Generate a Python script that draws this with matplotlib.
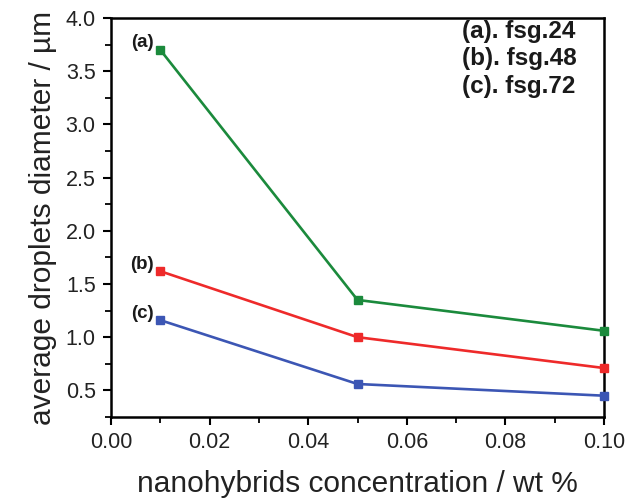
import matplotlib
matplotlib.use("Agg")
import matplotlib.pyplot as plt
from matplotlib.ticker import MultipleLocator

plt.rcParams['font.family'] = ['Liberation Sans', 'DejaVu Sans']

conc = [0.01, 0.05, 0.10]
fsg24 = [3.70, 1.35, 1.06]
fsg48 = [1.62, 1.00, 0.71]
fsg72 = [1.16, 0.56, 0.45]
series_labels = ["(a)", "(b)", "(c)"]
legend_lines = ["(a). fsg.24", "(b). fsg.48", "(c). fsg.72"]
xticks = [0.00, 0.02, 0.04, 0.06, 0.08, 0.10]
xticklabels = ["0.00", "0.02", "0.04", "0.06", "0.08", "0.10"]
yticks = [0.5, 1.0, 1.5, 2.0, 2.5, 3.0, 3.5, 4.0]
yticklabels = ["0.5", "1.0", "1.5", "2.0", "2.5", "3.0", "3.5", "4.0"]
colors = ["#1b8a3c", "#ee2a2a", "#3c56b4"]

fig = plt.figure(figsize=(6.35, 4.98), dpi=100)
ax = fig.add_axes([0.1748, 0.1627, 0.7764, 0.8012])

for ys, c, lab in zip([fsg24, fsg48, fsg72], colors, series_labels):
    ax.plot(conc, ys, color=c, lw=1.9, marker='s', ms=6, clip_on=False, zorder=3)
    ax.annotate(lab, (conc[0], ys[0]), xytext=(-5, -1), textcoords='offset points',
                ha='right', va='bottom', fontsize=13.5, fontweight='bold', color='#1a1a1a')

ax.set_xlim(0, 0.10)
ax.set_ylim(0.25, 4.0)
ax.set_xticks(xticks)
ax.set_xticklabels(xticklabels)
ax.set_yticks(yticks)
ax.set_yticklabels(yticklabels)
ax.xaxis.set_minor_locator(MultipleLocator(0.01))
ax.yaxis.set_minor_locator(MultipleLocator(0.25))
ax.tick_params(which='major', direction='out', length=6, width=1.5, labelsize=15.5,
               labelcolor='#222222', pad=5)
ax.tick_params(which='minor', direction='out', length=4, width=1.3)
for s in ax.spines.values():
    s.set_linewidth(1.8)

ax.set_xlabel("nanohybrids concentration / wt %", fontsize=21.5, labelpad=12, color='#222222')
ax.set_ylabel("average droplets diameter / µm", fontsize=21.5, labelpad=6, color='#222222')

ax.text(0.945, 0.995, "\n".join(legend_lines), transform=ax.transAxes, ha='right', va='top',
        multialignment='left', fontsize=17.5, fontweight='bold', linespacing=1.25,
        color='#1a1a1a')

fig.savefig("out.png", dpi=100)
